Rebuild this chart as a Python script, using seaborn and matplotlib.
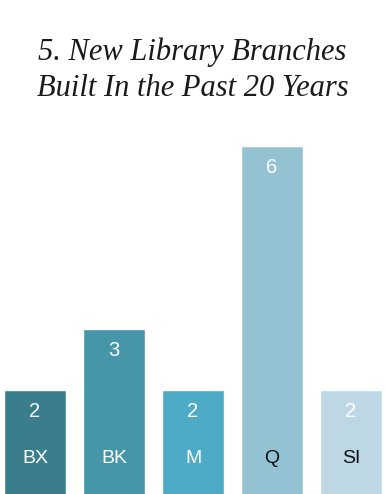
import matplotlib
matplotlib.use("Agg")
import matplotlib.pyplot as plt
import seaborn as sns
import pandas as pd

categories = ["BX", "BK", "M", "Q", "SI"]
values = [2, 3, 2, 6, 2]
colors = ["#3a7e8e", "#4596a9", "#4eabc5", "#93c3d3", "#bdd8e4"]
label_colors = ["white", "white", "white", "#111111", "#111111"]

df = pd.DataFrame({"borough": categories, "count": values})

sns.set_theme(style="white")
plt.rcParams["font.family"] = ["Liberation Sans", "DejaVu Sans"]

fig = plt.figure(figsize=(3.85, 4.94), dpi=100)
ax = fig.add_axes([0, 0, 1, 364 / 494])
sns.barplot(data=df, x="borough", y="count", hue="borough", palette=colors,
            legend=False, width=0.785, ax=ax, saturation=1)

ax.set_xlim(-0.443, 4.43)
ax.set_ylim(0.295, 6.26)
ax.axis("off")

for i, (v, lc) in enumerate(zip(values, label_colors)):
    ax.text(i, v - 0.36, str(v), ha="center", va="center", color="white",
            fontsize=14.5)
    ax.text(i, 0.87, categories[i], ha="center", va="center", color=lc,
            fontsize=14)

fig.text(0.5, 1 - 52 / 494, "5. New Library Branches", ha="center", va="center",
         fontsize=22, style="italic", family="Liberation Serif", color="#1a1a1a")
fig.text(0.5, 1 - 88 / 494, "Built In the Past 20 Years", ha="center", va="center",
         fontsize=22, style="italic", family="Liberation Serif", color="#1a1a1a")

fig.savefig("out.png", dpi=100)
